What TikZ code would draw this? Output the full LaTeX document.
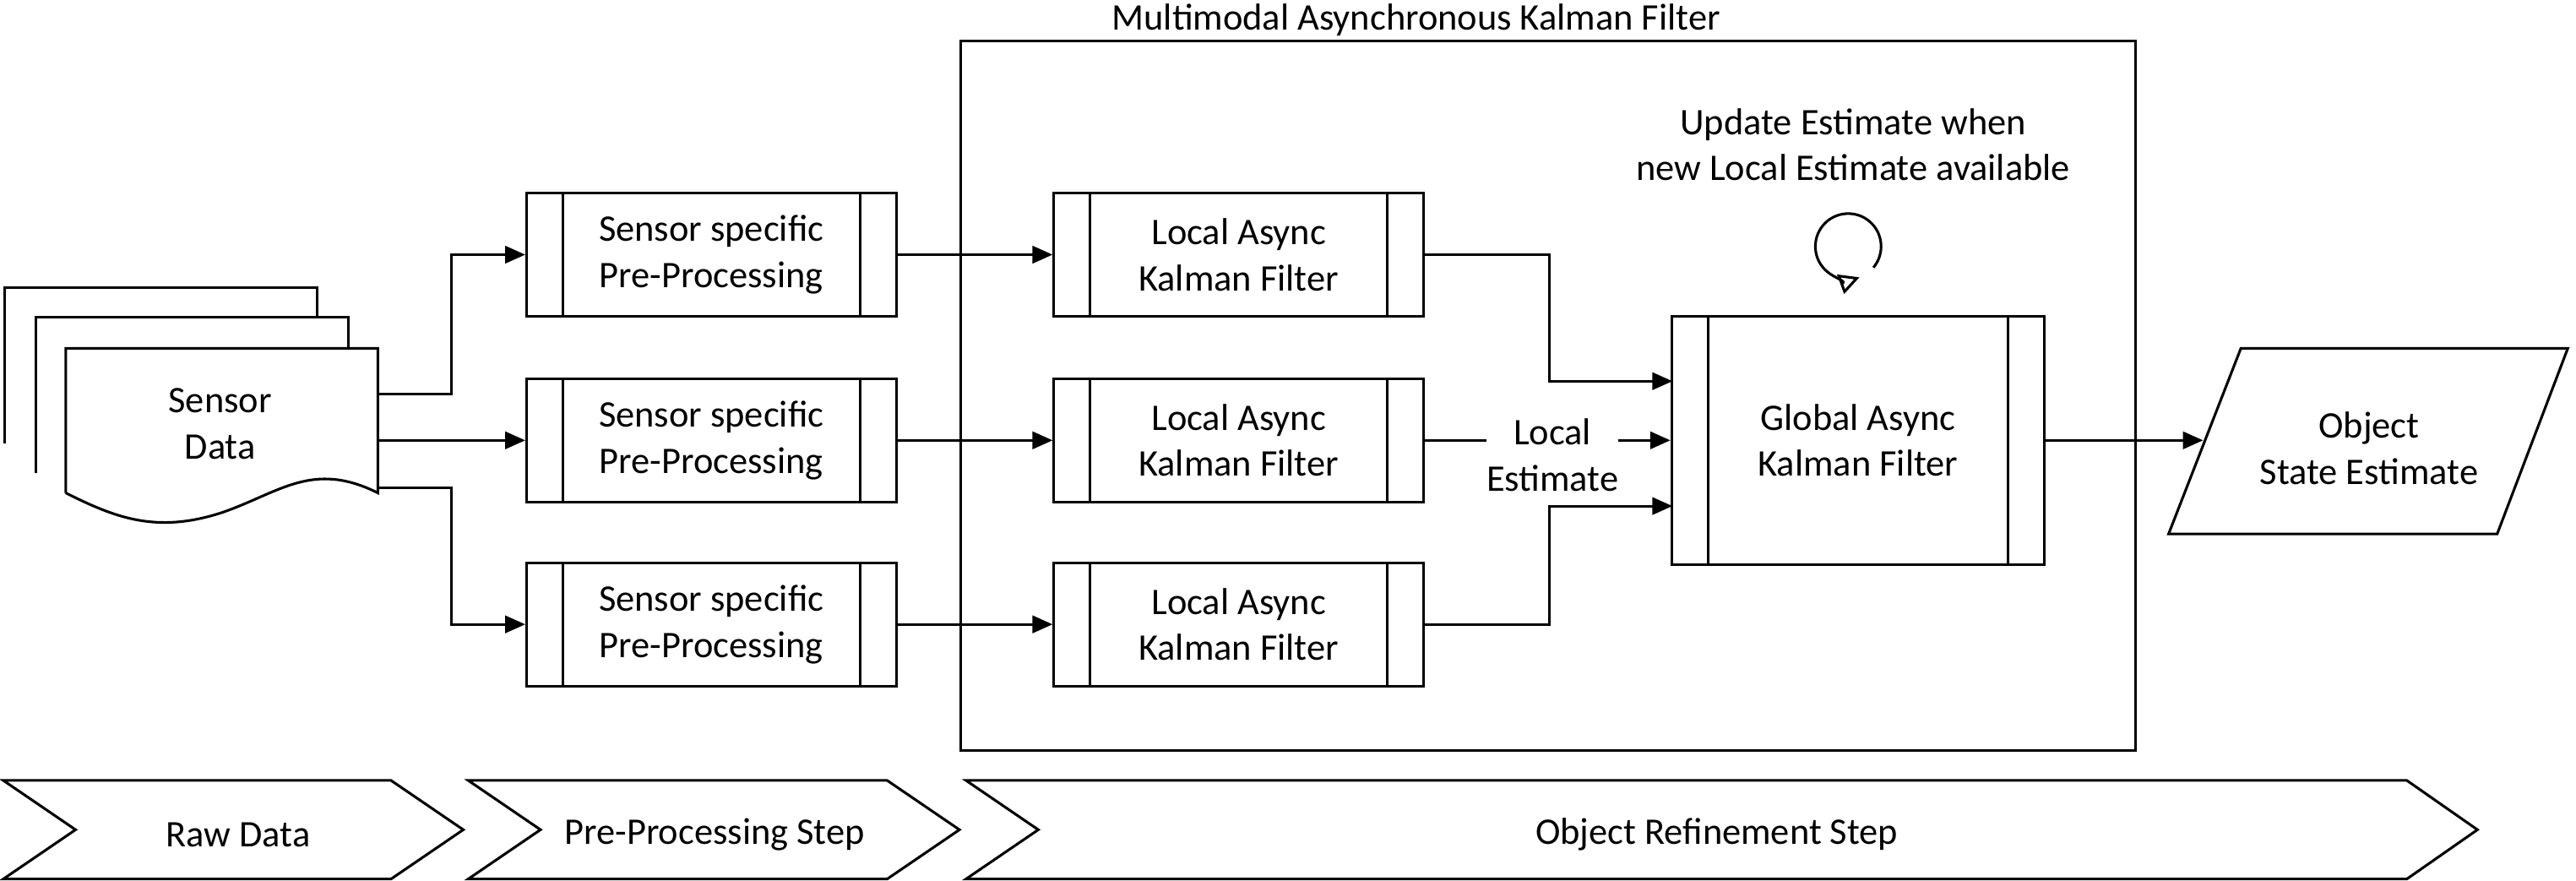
\documentclass[tikz,border=0pt]{standalone}
\usepackage{fontspec}
\setmainfont{Carlito}
\usetikzlibrary{arrows.meta,positioning}
\tikzset{
  proc/.style={draw, line width=0.9pt, minimum width=4.5cm, minimum height=1.5cm, align=center,
    path picture={\draw[line width=0.9pt] ([xshift=0.44cm]path picture bounding box.north west) -- ([xshift=0.44cm]path picture bounding box.south west)
      ([xshift=-0.44cm]path picture bounding box.north east) -- ([xshift=-0.44cm]path picture bounding box.south east);}},
  flow/.style={line width=0.9pt, -{Triangle[length=7pt,width=6pt]}},
  chevron/.style={draw, line width=0.9pt}
}
\begin{document}
\begin{tikzpicture}[x=0.02cm, y=-0.02cm, font=\fontsize{13}{16}\selectfont]
        \useasboundingbox (0,0) rectangle (1568,536);
        % outer frame
        \draw[line width=0.9pt] (585,25) rectangle (1300,457);
        \node at (862,12)(title){Multimodal Asynchronous Kalman Filter};

        % sensor data stack
        \foreach \dx/\dy in {3/175, 22/193}
          \draw[line width=0.9pt, fill=white] (\dx,\dy+95) -- (\dx,\dy) -- (\dx+190,\dy) -- (\dx+190,\dy+95);
        \draw[line width=0.9pt, fill=white] (40,300) -- (40,212) -- (230,212) -- (230,300)
          .. controls (190,280) and (170,300) .. (135,312) .. controls (95,325) and (70,315) .. (40,300);
        \node[align=center] at (134,258)(data){Sensor\\Data};
        \coordinate (d1) at (230,240);
        \coordinate (d2) at (230,268);
        \coordinate (d3) at (230,297);

        % processing chain
        \foreach \i/\y in {1/155, 2/268, 3/380} {
          \node[proc] at (433,\y)(pre\i){Sensor specific\\Pre-Processing};
          \node[proc] at (754,\y)(loc\i){Local Async\\Kalman Filter};
          \draw[flow] (pre\i) -- (loc\i);
        }
        \node[proc, minimum width=4.54cm, minimum height=3.02cm] at (1131,268)(glob){Global Async\\Kalman Filter};
        \draw[line width=0.9pt] (1320,325) -- (1364,212) -- (1563,212) -- (1520,325) -- cycle;
        \node[align=center] at (1442,273)(out){Object\\State Estimate};
        \coordinate (o) at (1341,268);

        \draw[flow] (d1) -| (275,197) |- (pre1);
        \draw[flow] (d2) -- (pre2);
        \draw[flow] (d3) -| (275,340) |- (pre3);
        \draw[flow] (loc1.east) -| (943,200) |- (1018,232);
        \draw[flow] (loc3.east) -| (943,340) |- (1018,308);
        \node[align=center] at (945,277)(est){Local\\Estimate};
        \draw[line width=0.9pt] (loc2) -- (905,268);
        \draw[flow] (985,268) -- (glob);
        \draw[flow] (glob) -- (o);

        % update note
        \node[align=center] at (1128,88)(note){Update Estimate when\\new Local Estimate available};
        \draw[line width=0.9pt, -{Triangle[open,length=7pt,width=7pt]}] (1125,150) ++(40:20) arc (40:-290:20);

        % steps
        \draw[chevron] (2,475) -- (238,475) -- (282,505) -- (238,535) -- (2,535) -- (46,505) -- cycle;
        \draw[chevron] (285,475) -- (540,475) -- (584,505) -- (540,535) -- (285,535) -- (329,505) -- cycle;
        \draw[chevron] (588,475) -- (1465,475) -- (1508,505) -- (1465,535) -- (588,535) -- (632,505) -- cycle;
        \node at (145,508)(raw){Raw Data};
        \node at (435,508)(prestep){Pre-Processing Step};
        \node at (1045,508)(refine){Object Refinement Step};
    \end{tikzpicture}
\end{document}
